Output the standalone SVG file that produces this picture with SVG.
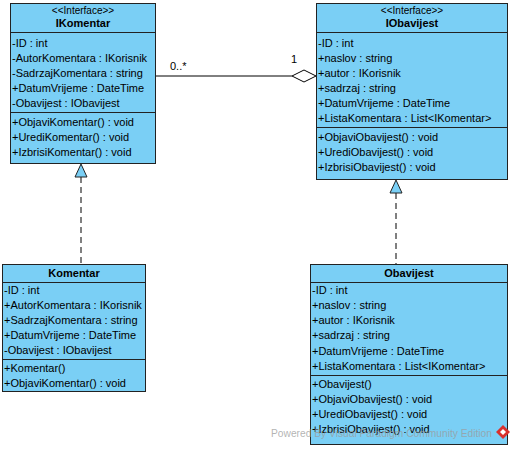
<svg xmlns="http://www.w3.org/2000/svg" width="515" height="450" viewBox="0 0 515 450">
  <style>
    .box { fill: #7ACFF5; stroke: #222; stroke-width: 1; }
    .sep { stroke: #222; stroke-width: 1; }
    text { font-family: "Liberation Sans", Arial, sans-serif; font-size: 11px; fill: #000; }
    .title { font-weight: bold; text-anchor: middle; }
    .stereo { font-size: 10px; text-anchor: middle; }
    .edge { stroke: #000; stroke-width: 1; fill: none; }
    .dash { stroke-dasharray: 6 4; }
    .realize { fill: #7ACFF5; stroke: #222; stroke-width: 1; }
    .wm { fill: #9a9a9a; fill-opacity: 0.75; font-size: 10.5px; }
  </style>
  <rect width="515" height="450" fill="#fff"/>

  <!-- connectors -->
  <g id="connectors">
    <!-- association IKomentar 0..* to IObavijest 1 (aggregation) -->
    <line class="edge" x1="155" y1="76" x2="292" y2="76"/>
    <polygon points="292,76 304,70 316,76 304,82" fill="#fff" stroke="#000"/>
    <text x="170" y="70">0..*</text>
    <text x="291" y="63">1</text>
    <!-- Komentar realizes IKomentar -->
    <line class="edge dash" x1="81" y1="177" x2="81" y2="264"/>
    <polygon class="realize" points="81,164 75,177 87,177"/>
    <!-- Obavijest realizes IObavijest -->
    <line class="edge dash" x1="396" y1="193" x2="396" y2="264"/>
    <polygon class="realize" points="396,180 390,193 402,193"/>
  </g>

  <!-- interface IKomentar -->
  <g id="IKomentar">
    <rect class="box" x="10.5" y="3.5" width="145" height="160"/>
    <line class="sep" x1="10.5" y1="32.5" x2="155.5" y2="32.5"/>
    <line class="sep" x1="10.5" y1="112.5" x2="155.5" y2="112.5"/>
    <text class="stereo" x="83" y="14">&lt;&lt;Interface&gt;&gt;</text>
    <text class="title" x="83" y="27">IKomentar</text>
    <text x="12" y="47">-ID : int</text>
    <text x="12" y="62">-AutorKomentara : IKorisnik</text>
    <text x="12" y="77">-SadrzajKomentara : string</text>
    <text x="12" y="92">+DatumVrijeme : DateTime</text>
    <text x="12" y="107">-Obavijest : IObavijest</text>
    <text x="12" y="126">+ObjaviKomentar() : void</text>
    <text x="12" y="141">+UrediKomentar() : void</text>
    <text x="12" y="156">+IzbrisiKomentar() : void</text>
  </g>

  <!-- interface IObavijest -->
  <g id="IObavijest">
    <rect class="box" x="316.5" y="3.5" width="191" height="176"/>
    <line class="sep" x1="316.5" y1="32.5" x2="507.5" y2="32.5"/>
    <line class="sep" x1="316.5" y1="127.5" x2="507.5" y2="127.5"/>
    <text class="stereo" x="412" y="14">&lt;&lt;Interface&gt;&gt;</text>
    <text class="title" x="412" y="27">IObavijest</text>
    <text x="318" y="47">-ID : int</text>
    <text x="318" y="62">+naslov : string</text>
    <text x="318" y="77">+autor : IKorisnik</text>
    <text x="318" y="92">+sadrzaj : string</text>
    <text x="318" y="107">+DatumVrijeme : DateTime</text>
    <text x="318" y="122">+ListaKomentara : List&lt;IKomentar&gt;</text>
    <text x="318" y="141">+ObjaviObavijest() : void</text>
    <text x="318" y="156">+UrediObavijest() : void</text>
    <text x="318" y="171">+IzbrisiObavijest() : void</text>
  </g>

  <!-- class Komentar -->
  <g id="Komentar">
    <rect class="box" x="2.5" y="264.5" width="143" height="127"/>
    <line class="sep" x1="2.5" y1="282.5" x2="145.5" y2="282.5"/>
    <line class="sep" x1="2.5" y1="359.5" x2="145.5" y2="359.5"/>
    <text class="title" x="74" y="277">Komentar</text>
    <text x="4" y="294">-ID : int</text>
    <text x="4" y="309">+AutorKomentara : IKorisnik</text>
    <text x="4" y="324">+SadrzajKomentara : string</text>
    <text x="4" y="339">+DatumVrijeme : DateTime</text>
    <text x="4" y="354">-Obavijest : IObavijest</text>
    <text x="4" y="372">+Komentar()</text>
    <text x="4" y="387">+ObjaviKomentar() : void</text>
  </g>

  <!-- class Obavijest -->
  <g id="Obavijest">
    <rect class="box" x="310.5" y="264.5" width="197" height="180"/>
    <line class="sep" x1="310.5" y1="282.5" x2="507.5" y2="282.5"/>
    <line class="sep" x1="310.5" y1="375.5" x2="507.5" y2="375.5"/>
    <text class="title" x="409" y="277">Obavijest</text>
    <text x="312" y="294">-ID : int</text>
    <text x="312" y="309">+naslov : string</text>
    <text x="312" y="324">+autor : IKorisnik</text>
    <text x="312" y="339">+sadrzaj : string</text>
    <text x="312" y="355">+DatumVrijeme : DateTime</text>
    <text x="312" y="370">+ListaKomentara : List&lt;IKomentar&gt;</text>
    <text x="312" y="388">+Obavijest()</text>
    <text x="312" y="403">+ObjaviObavijest() : void</text>
    <text x="312" y="418">+UrediObavijest() : void</text>
    <text x="312" y="433">+IzbrisiObavijest() : void</text>
  </g>

  <!-- edition watermark -->
  <g id="watermark">
    <text class="wm" x="271" y="437" textLength="221" lengthAdjust="spacingAndGlyphs">Powered By  Visual Paradigm Community Edition</text>
    <polygon points="503,425 510,432 503,439 496,432" fill="#d9302c"/>
    <polygon points="503,429 506,432 503,435 500,432" fill="#fff"/>
  </g>
</svg>
